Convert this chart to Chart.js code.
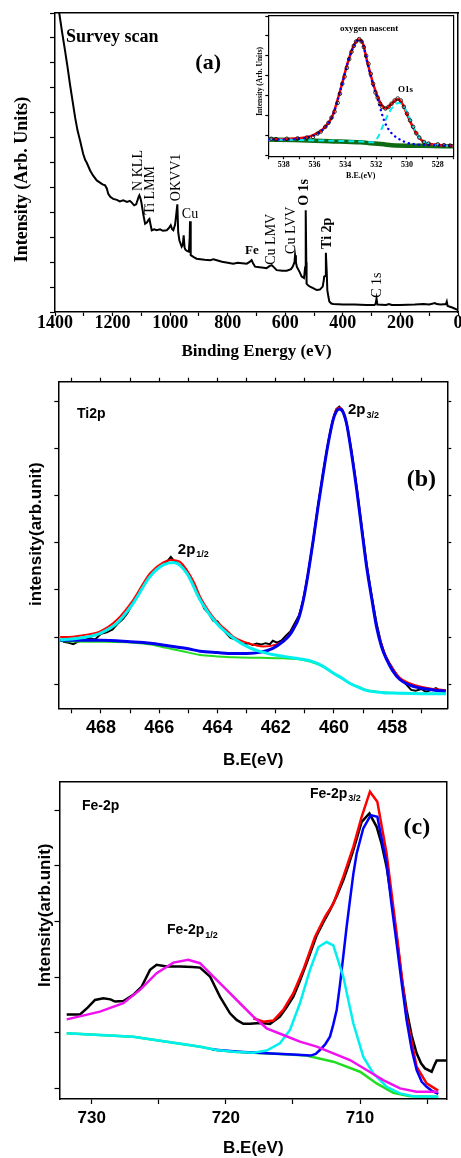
<!DOCTYPE html>
<html>
<head>
<meta charset="utf-8">
<script src="https://cdn.jsdelivr.net/npm/chart.js@4.4.0/dist/chart.umd.min.js"></script>
<style>
  body { margin: 0; background: #fff; }
  #wrap { position: relative; width: 461px; height: 1158px; overflow: hidden; background: #fff; }
  canvas { position: absolute; }
</style>
</head>
<body>
<div id="wrap">
  <canvas id="surveyChart" width="461" height="364" style="left:0;top:0"></canvas>
  <canvas id="insetChart" width="208" height="172" style="left:250px;top:10px"></canvas>
  <canvas id="tiChart" width="461" height="408" style="left:0;top:364px"></canvas>
  <canvas id="feChart" width="461" height="386" style="left:0;top:772px"></canvas>
</div>
<script>
// [binding energy (eV), intensity (arb. units)]
const surveyScan = [[1400,6.5],[1390,6.15],[1385,5.99],[1375,5.6],[1365,5.24],[1356,4.9],[1348,4.57],[1340,4.27],[1330,3.9],[1322,3.65],[1313,3.44],[1302,3.17],[1295,3.05],[1290,3.0],[1278,2.84],[1268,2.74],[1255,2.64],[1245,2.6],[1235,2.56],[1226,2.54],[1220,2.48],[1215,2.37],[1208,2.31],[1198,2.27],[1185,2.25],[1175,2.22],[1163,2.24],[1150,2.21],[1140,2.23],[1134,2.2],[1125,2.14],[1118,2.16],[1110,2.3],[1107,2.34],[1103,2.28],[1099,2.17],[1093,1.95],[1087,1.77],[1080,1.8],[1074,1.86],[1072,1.87],[1068,1.75],[1064,1.64],[1055,1.66],[1047,1.64],[1035,1.66],[1025,1.63],[1012,1.64],[1005,1.68],[998,1.74],[993,1.66],[989,1.64],[983,1.75],[978,2.0],[975,2.16],[972,1.6],[968,1.44],[960,1.31],[956,1.35],[953,1.54],[950,1.3],[947,1.25],[940,1.22],[935,1.21],[932,1.5],[931,1.82],[929,1.3],[928,1.14],[918,1.1],[908,1.07],[895,1.06],[880,1.05],[860,1.04],[850,1.06],[838,1.04],[820,1.01],[800,0.99],[781,0.97],[765,0.99],[750,0.98],[734,0.97],[725,1.0],[717,1.04],[712,0.98],[705,0.91],[690,0.9],[675,0.89],[665,0.88],[655,0.92],[647,0.94],[640,0.9],[630,0.84],[610,0.83],[595,0.83],[580,0.86],[574,0.91],[568,1.0],[566,1.14],[563,1.0],[560,0.91],[550,0.8],[543,0.71],[535,0.68],[531,0.9],[529,2.04],[527,1.0],[526,0.57],[520,0.53],[514,0.51],[500,0.47],[491,0.44],[480,0.45],[470,0.51],[466,0.65],[465,0.71],[462,0.72],[459,1.19],[456,0.8],[454,0.44],[450,0.3],[447,0.21],[440,0.17],[433,0.16],[400,0.15],[360,0.15],[317,0.14],[290,0.14],[286,0.17],[283,0.27],[280,0.15],[250,0.14],[240,0.16],[230,0.14],[201,0.14],[150,0.15],[120,0.16],[100,0.15],[80,0.18],[74,0.16],[60,0.15],[42,0.16],[39,0.21],[36,0.12],[20,0.09],[0,0.04]];

// O1s inset
const o1sFit = [[539,0.91],[538,0.91],[537,0.93],[536.3,0.98],[535.8,1.06],[535.4,1.18],[534.85,1.48],[534.3,2.18],[533.8,2.89],[533.4,3.3],[533.1,3.41],[532.85,3.3],[532.6,2.89],[532.2,2.31],[531.86,1.93],[531.6,1.74],[531.36,1.68],[531.0,1.8],[530.6,1.91],[530.3,1.8],[530.03,1.56],[529.7,1.28],[529.4,1.06],[528.96,0.85],[528.3,0.78],[527.6,0.75],[527,0.74]];
const o1sNascent = [[539,0.9],[538,0.9],[537,0.92],[536.3,0.97],[535.8,1.05],[535.4,1.17],[534.85,1.47],[534.3,2.17],[533.8,2.88],[533.4,3.29],[533.1,3.4],[532.85,3.29],[532.6,2.87],[532.2,2.27],[531.86,1.86],[531.5,1.39],[531.2,1.16],[530.9,1.02],[530.67,0.95],[530.0,0.82],[529.4,0.78],[528.5,0.76],[527,0.74]];
const o1sPeak = [[539,0.9],[537,0.89],[535,0.87],[533,0.85],[532.2,0.83],[531.9,0.95],[531.5,1.3],[531.1,1.62],[530.7,1.8],[530.5,1.82],[530.2,1.72],[529.9,1.5],[529.5,1.15],[529.1,0.9],[528.6,0.8],[528,0.76],[527,0.74]];
const o1sBackground = [[539,0.9],[537.3,0.89],[535,0.86],[533,0.83],[532.4,0.81],[531.5,0.78],[531,0.76],[529,0.745],[527,0.73]];
const o1sPoints = [[538.8,0.92],[538.5,0.91],[537.8,0.92],[537.1,0.93],[536.5,0.95],[536.1,0.97],[535.8,1.05],[535.6,1.1],[535.3,1.22],[535.1,1.32],[534.9,1.45],[534.7,1.6],[534.5,1.82],[534.35,2.05],[534.2,2.3],[534.05,2.48],[533.9,2.7],[533.75,2.92],[533.6,3.1],[533.45,3.25],[533.3,3.36],[533.1,3.42],[532.95,3.36],[532.8,3.22],[532.65,3.0],[532.5,2.8],[532.35,2.55],[532.2,2.3],[532.05,2.08],[531.9,1.95],[531.75,1.8],[531.6,1.72],[531.4,1.68],[531.2,1.72],[531.0,1.8],[530.8,1.88],[530.6,1.93],[530.4,1.88],[530.2,1.72],[530.0,1.55],[529.8,1.38],[529.6,1.22],[529.4,1.06],[529.2,0.95],[528.9,0.84],[528.6,0.8],[528.0,0.78],[527.6,0.76],[527.2,0.75]];

// Ti2p
const ti2pRaw = [[469.3,1.9],[469.1,1.88],[468.95,1.85],[468.8,1.9],[468.6,1.93],[468.4,1.98],[468.2,1.95],[468.0,2.07],[467.8,2.1],[467.6,2.16],[467.4,2.3],[467.25,2.38],[467.1,2.5],[466.9,2.72],[466.7,2.92],[466.5,3.12],[466.3,3.32],[466.1,3.45],[465.9,3.52],[465.75,3.58],[465.6,3.7],[465.5,3.62],[465.35,3.55],[465.2,3.5],[465.05,3.38],[464.9,3.2],[464.75,3.02],[464.6,2.82],[464.45,2.6],[464.3,2.5],[464.15,2.35],[464.0,2.33],[463.85,2.2],[463.7,2.08],[463.55,1.98],[463.4,1.95],[463.25,1.9],[463.1,1.85],[462.95,1.87],[462.8,1.83],[462.65,1.86],[462.5,1.84],[462.35,1.87],[462.2,1.85],[462.1,1.92],[461.95,1.88],[461.8,1.93],[461.65,2.03],[461.5,2.12],[461.2,2.46],[461.05,2.8],[460.9,3.3],[460.71,4.05],[460.55,4.78],[460.37,5.5],[460.2,6.12],[460.03,6.62],[459.92,6.83],[459.82,6.88],[459.7,6.8],[459.57,6.53],[459.4,5.95],[459.22,5.17],[459.05,4.35],[458.88,3.55],[458.7,2.85],[458.54,2.3],[458.4,1.92],[458.25,1.62],[458.1,1.45],[457.95,1.3],[457.8,1.15],[457.65,1.08],[457.5,0.98],[457.35,0.88],[457.2,0.86],[457.0,0.9],[456.85,0.84],[456.7,0.87],[456.5,0.92],[456.35,0.86],[456.2,0.84]];
const ti2pFit = [[469.4,2.0],[469.24,2.0],[468.6,2.04],[468.03,2.12],[467.46,2.36],[466.89,2.79],[466.32,3.35],[465.86,3.58],[465.57,3.63],[465.3,3.6],[465.05,3.42],[464.8,3.15],[464.6,2.86],[464.3,2.55],[464.03,2.33],[463.7,2.15],[463.46,2.01],[462.89,1.86],[462.43,1.8],[462.0,1.84],[461.74,1.92],[461.55,2.04],[461.4,2.18],[461.2,2.44],[461.05,2.81],[460.9,3.32],[460.71,4.08],[460.55,4.77],[460.37,5.49],[460.2,6.12],[460.03,6.62],[459.92,6.82],[459.82,6.86],[459.7,6.8],[459.57,6.55],[459.4,5.93],[459.22,5.15],[459.05,4.33],[458.88,3.52],[458.7,2.83],[458.54,2.25],[458.37,1.84],[458.19,1.56],[458.0,1.35],[457.74,1.14],[457.4,1.02],[457.05,0.95],[456.6,0.9],[456.16,0.88]];
const ti2p32 = [[469.4,1.93],[468,1.93],[467,1.9],[466.3,1.87],[465.75,1.82],[465,1.75],[464.6,1.7],[464,1.67],[463.46,1.65],[463,1.65],[462.5,1.68],[462.1,1.76],[461.74,1.91],[461.55,2.02],[461.4,2.16],[461.2,2.42],[461.05,2.79],[460.9,3.3],[460.71,4.06],[460.55,4.75],[460.37,5.47],[460.2,6.1],[460.03,6.6],[459.92,6.78],[459.82,6.83],[459.7,6.78],[459.57,6.53],[459.4,5.9],[459.22,5.12],[459.05,4.3],[458.88,3.49],[458.7,2.8],[458.54,2.22],[458.37,1.8],[458.19,1.52],[458.0,1.3],[457.74,1.1],[457.4,0.98],[457.05,0.92],[456.6,0.88],[456.16,0.85]];
const ti2p12 = [[469.4,1.94],[469.0,1.96],[468.5,2.0],[468.03,2.08],[467.46,2.29],[466.89,2.72],[466.32,3.28],[465.86,3.53],[465.5,3.58],[465.05,3.35],[464.6,2.79],[464.03,2.29],[463.46,1.98],[462.89,1.77],[462.32,1.66],[461.74,1.59],[461.2,1.54],[460.83,1.5],[460.4,1.39],[460.03,1.24],[459.7,1.12],[459.46,1.02],[459.1,0.92],[458.89,0.87],[458.3,0.82],[457.74,0.81],[457,0.8],[456.16,0.8]];
const ti2pBackground = [[469.4,1.92],[469.24,1.91],[468,1.9],[466.89,1.88],[466.3,1.84],[465.75,1.77],[465.2,1.7],[464.6,1.62],[464,1.59],[463.46,1.57],[462.5,1.56],[461.74,1.55],[461.2,1.53],[460.83,1.48],[460.4,1.38],[460.03,1.24],[459.7,1.11],[459.46,1.02],[459.1,0.93],[458.89,0.88],[458.3,0.83],[457.74,0.81],[457,0.8],[456.16,0.8]];

// Fe2p
const fe2pRaw = [[731.86,2.33],[730.87,2.33],[730.3,2.45],[729.75,2.59],[729.13,2.62],[728.6,2.6],[728.26,2.56],[727.64,2.57],[726.9,2.68],[726.27,2.83],[725.65,3.13],[725.16,3.22],[724.41,3.19],[723.42,3.19],[722.5,3.18],[721.93,3.17],[721.18,3.01],[720.44,2.65],[719.69,2.35],[719.2,2.23],[718.7,2.16],[718.2,2.16],[717.7,2.17],[717.2,2.17],[716.71,2.16],[715.97,2.29],[715.5,2.45],[714.97,2.65],[714.5,2.92],[713.98,3.25],[713.23,3.75],[712.7,4.0],[712.24,4.2],[711.75,4.45],[711.25,4.74],[710.9,4.98],[710.5,5.28],[709.88,5.79],[709.3,5.94],[708.76,5.7],[708.4,5.4],[708.02,4.98],[707.65,4.4],[707.27,3.72],[706.9,3.0],[706.53,2.41],[706.15,1.95],[705.78,1.63],[705.45,1.45],[705.16,1.36],[704.66,1.3],[704.45,1.42],[704.29,1.5],[703.55,1.5]];
const fe2pFit = [[717.95,2.26],[717.2,2.2],[716.46,2.22],[715.72,2.41],[714.97,2.71],[714.23,3.13],[713.36,3.72],[712.61,4.08],[711.99,4.32],[711.25,4.8],[710.5,5.34],[709.88,5.88],[709.26,6.33],[708.71,6.15],[708.02,5.22],[707.27,3.78],[706.53,2.29],[705.78,1.39],[705.04,1.09],[704.17,0.96]];
const fe2p32 = [[721.0,1.7],[719,1.66],[717,1.63],[715,1.61],[713.7,1.59],[713.3,1.62],[712.99,1.69],[712.6,1.79],[712.24,1.93],[711.99,2.15],[711.74,2.41],[711.5,2.85],[711.25,3.37],[711.0,3.9],[710.75,4.38],[710.5,4.85],[710.25,5.22],[709.76,5.67],[709.2,5.91],[708.71,5.88],[708.4,5.5],[708.02,5.04],[707.65,4.3],[707.27,3.6],[706.9,2.9],[706.53,2.23],[706.15,1.7],[705.78,1.33],[705.4,1.12],[705.04,1.03],[704.6,0.95],[704.17,0.9]];
const fe2pSat = [[731.86,1.99],[729.4,1.96],[726.9,1.93],[724.4,1.84],[721.9,1.75],[720.7,1.69],[719.4,1.66],[717.95,1.64],[716.96,1.68],[715.97,1.81],[715.22,2.05],[714.48,2.53],[713.73,3.13],[713.1,3.54],[712.49,3.63],[711.99,3.57],[711.25,3.01],[710.5,2.17],[709.76,1.57],[709.01,1.27],[708.02,1.03],[707.02,0.91],[706.03,0.86],[704.17,0.85]];
const fe2p12 = [[731.86,2.24],[729.38,2.38],[727.64,2.53],[726.4,2.77],[725.16,3.07],[723.91,3.26],[722.8,3.31],[721.93,3.25],[720.93,3.01],[719.94,2.77],[718.95,2.53],[717.95,2.29],[716.96,2.08],[715.72,1.96],[714.48,1.84],[713.23,1.75],[711.99,1.63],[710.75,1.51],[709.51,1.33],[708.27,1.15],[707.02,1.0],[705.78,0.94],[704.17,0.94]];
const fe2pBackground = [[731.86,1.99],[729.4,1.96],[726.9,1.93],[724.4,1.84],[721.9,1.75],[720.7,1.69],[719.4,1.66],[717.95,1.64],[716,1.62],[714,1.59],[711.99,1.48],[710,1.3],[708.76,1.09],[707.52,0.92],[706.28,0.86],[704.17,0.85]];

const SERIF = '"Liberation Serif", "Times New Roman", serif';
const SANS = '"Liberation Sans", Arial, sans-serif';

function pts(list) {
  return list.map(p => ({ x: p[0], y: p[1] }));
}

function series(list, color, width, extra) {
  return Object.assign({
    data: pts(list), borderColor: color, borderWidth: width,
    pointRadius: 0, fill: false, tension: 0, xAxisID: 'x', yAxisID: 'y'
  }, extra || {});
}

// axes with a frame, fixed box sizes so the plot area lands where the figure has it
function axes(c) {
  const tickGrid = len => ({ display: true, drawOnChartArea: false, drawTicks: len > 0, tickLength: len, tickColor: '#000', tickWidth: 1.2 });
  const border = { display: true, color: '#000', width: c.bw };
  return {
    x: {
      type: 'linear', reverse: true, min: c.x[0], max: c.x[1],
      grid: tickGrid(c.tlx), border: border,
      ticks: {
        stepSize: c.x[2], includeBounds: false, autoSkip: false, maxRotation: 0, minRotation: 0,
        color: '#000', font: c.tickFont, padding: c.tickPad,
        callback: v => (Math.abs(v % c.x[3]) < 1e-6 ? String(v) : '')
      },
      title: { display: true, text: c.xTitle, color: '#000', font: c.xTitleFont, padding: { top: 0, bottom: c.xTitlePad } },
      afterFit: s => { s.height = c.bottom; s.paddingLeft = 0; s.paddingRight = 0; }
    },
    y: {
      type: 'linear', min: c.y[0], max: c.y[1],
      grid: tickGrid(c.tly), border: border,
      ticks: { display: false, stepSize: c.y[2], includeBounds: false },
      afterFit: s => { s.width = c.left; }
    },
    x2: {
      type: 'linear', position: 'top', reverse: true, min: c.x[0], max: c.x[1],
      grid: tickGrid(c.tlm || 0), border: border,
      ticks: { display: false, stepSize: c.x[2], includeBounds: false },
      afterFit: s => { s.height = 0; s.paddingLeft = 0; s.paddingRight = 0; }
    },
    y2: {
      type: 'linear', position: 'right', min: c.y[0], max: c.y[1],
      grid: tickGrid(c.tlm || 0), border: border,
      ticks: { display: false, stepSize: c.y[2], includeBounds: false },
      afterFit: s => { s.width = 0; }
    }
  };
}

// labels: x/y in data units; px puts the label at a fixed canvas x (used for y axis titles)
function notes(items) {
  return {
    id: 'notes',
    afterDatasetsDraw(chart) {
      const ctx = chart.ctx, sx = chart.scales.x, sy = chart.scales.y;
      items.forEach(n => {
        ctx.save();
        ctx.translate(n.px !== undefined ? n.px : sx.getPixelForValue(n.x), sy.getPixelForValue(n.y));
        if (n.rot) ctx.rotate(-Math.PI / 2);
        ctx.fillStyle = '#000';
        ctx.font = n.font;
        ctx.textAlign = n.align || 'left';
        ctx.textBaseline = 'middle';
        ctx.fillText(n.text, 0, 0);
        if (n.sub) {
          const w = ctx.measureText(n.text).width;
          ctx.font = n.subFont;
          ctx.textAlign = 'left';
          ctx.fillText(n.sub, w + 1, n.subDy);
        }
        ctx.restore();
      });
    }
  };
}

const base = {
  responsive: false, animation: false, events: [],
  plugins: { legend: { display: false }, tooltip: { enabled: false } }
};

// (a) survey scan
const lbl = `14px ${SERIF}`, lblB = `bold 14px ${SERIF}`;
new Chart(document.getElementById('surveyChart'), {
  type: 'line',
  data: { datasets: [series(surveyScan, '#000', 2)] },
  options: Object.assign({}, base, {
    layout: { padding: { top: 13, right: 3, left: 0, bottom: 0 } },
    scales: axes({
      x: [0, 1400, 100, 200], y: [0, 6, 0.5], bw: 1.5, tlx: 4, tly: 5,
      left: 55, bottom: 52,
      tickFont: { family: SERIF, size: 18, weight: 'bold', lineHeight: 1 }, tickPad: -2,
      xTitle: 'Binding Energy (eV)', xTitleFont: { family: SERIF, size: 17, weight: 'bold' }, xTitlePad: 1.8
    })
  }),
  plugins: [notes([
    { text: 'Intensity (Arb. Units)', px: 22.5, y: 2.66, rot: true, align: 'center', font: `bold 18px ${SERIF}` },
    { text: 'Survey scan', x: 1362, y: 5.52, font: `bold 18px ${SERIF}` },
    { text: '(a)', x: 868, y: 5.0, font: `bold 22px ${SERIF}`, align: 'center' },
    { text: 'N KLL', x: 1112, y: 2.84, rot: true, align: 'center', font: lbl },
    { text: 'Ti LMM', x: 1070, y: 2.44, rot: true, align: 'center', font: lbl },
    { text: 'OKVV1', x: 980, y: 2.7, rot: true, align: 'center', font: lbl },
    { text: 'Cu', x: 931, y: 1.96, align: 'center', font: lbl },
    { text: 'Fe', x: 716, y: 1.24, align: 'center', font: `bold 13px ${SERIF}` },
    { text: 'Cu LMV', x: 650, y: 1.46, rot: true, align: 'center', font: lbl },
    { text: 'Cu LVV', x: 580, y: 1.64, rot: true, align: 'center', font: lbl },
    { text: 'O 1s', x: 535, y: 2.4, rot: true, align: 'center', font: lblB },
    { text: 'Ti 2p', x: 455, y: 1.58, rot: true, align: 'center', font: lblB },
    { text: 'C 1s', x: 281, y: 0.54, rot: true, align: 'center', font: lbl }
  ])]
});

// (a) inset, O1s
new Chart(document.getElementById('insetChart'), {
  type: 'line',
  data: {
    datasets: [
      series(o1sPoints, '#000', 0, { showLine: false, pointRadius: 1.8, pointBorderWidth: 0.8, pointBorderColor: '#000', pointBackgroundColor: 'rgba(255,255,255,0)' }),
      series(o1sNascent, '#0000ff', 2.4, { borderDash: [0.1, 5], borderCapStyle: 'round', cubicInterpolationMode: 'monotone' }),
      series(o1sPeak, '#00e8f0', 2, { borderDash: [6, 4], cubicInterpolationMode: 'monotone' }),
      series(o1sFit, '#ff0000', 2.5, { cubicInterpolationMode: 'monotone' }),
      series(o1sBackground, '#0f6b12', 4.5, { cubicInterpolationMode: 'monotone' })
    ]
  },
  options: Object.assign({}, base, {
    layout: { padding: { top: 6, right: 4, left: 0, bottom: 0 } },
    scales: axes({
      x: [527, 539, 1, 2], y: [0.47, 4.0, 0.5], bw: 1.2, tlx: 2.5, tly: 3,
      left: 18.3, bottom: 25.3,
      tickFont: { family: SERIF, size: 8, weight: 'bold', lineHeight: 1 }, tickPad: 1.8,
      xTitle: 'B.E.(eV)', xTitleFont: { family: SERIF, size: 8, weight: 'bold' }, xTitlePad: 1.2
    })
  }),
  plugins: [notes([
    { text: 'Intensity (Arb. Units)', px: 10, y: 2.36, rot: true, align: 'center', font: `bold 7.5px ${SERIF}` },
    { text: 'oxygen nascent', x: 532.45, y: 3.67, align: 'center', font: `bold 9px ${SERIF}` },
    { text: 'O1s', x: 530.1, y: 2.14, align: 'center', font: `bold 9px ${SERIF}` }
  ])]
});

// (b) Ti2p
new Chart(document.getElementById('tiChart'), {
  type: 'line',
  data: {
    datasets: [
      series(ti2p12, '#00f0f0', 3, { cubicInterpolationMode: 'monotone' }),
      series(ti2p32, '#0000ee', 3, { cubicInterpolationMode: 'monotone' }),
      series(ti2pFit, '#ff0000', 2, { cubicInterpolationMode: 'monotone' }),
      series(ti2pBackground, '#22dd22', 2, { cubicInterpolationMode: 'monotone' }),
      series(ti2pRaw, '#000', 2)
    ]
  },
  options: Object.assign({}, base, {
    layout: { padding: { top: 17.7, right: 13.7, left: 0, bottom: 0 } },
    scales: axes({
      x: [456.11, 469.44, 1, 2], y: [0.49, 7.41, 1], bw: 1.5, tlx: 5, tly: 4.7, tlm: 4,
      left: 59, bottom: 63.7,
      tickFont: { family: SANS, size: 18, weight: 'bold', lineHeight: 1 }, tickPad: 5.7,
      xTitle: 'B.E(eV)', xTitleFont: { family: SANS, size: 17, weight: 'bold' }, xTitlePad: 1.3
    })
  }),
  plugins: [notes([
    { text: 'intensity(arb.unit)', px: 36.7, y: 4.18, rot: true, align: 'center', font: `bold 17px ${SANS}` },
    { text: 'Ti2p', x: 468.82, y: 6.72, font: `bold 14px ${SANS}` },
    { text: '2p', x: 459.52, y: 6.81, font: `bold 15px ${SANS}`, sub: '3/2', subFont: `bold 9px ${SANS}`, subDy: 5 },
    { text: '2p', x: 465.36, y: 3.85, font: `bold 15px ${SANS}`, sub: '1/2', subFont: `bold 9px ${SANS}`, subDy: 5 },
    { text: '(b)', x: 457.0, y: 5.33, align: 'center', font: `bold 24px ${SERIF}` }
  ])]
});

// (c) Fe2p
new Chart(document.getElementById('feChart'), {
  type: 'line',
  data: {
    datasets: [
      series(fe2p12, '#f010f0', 2.5),
      series(fe2pSat, '#00f0f0', 2.5),
      series(fe2p32, '#0000ff', 2.5),
      series(fe2pFit, '#ff0000', 2.5),
      series(fe2pRaw, '#000', 2.5),
      series(fe2pBackground, '#22dd22', 2.5)
    ]
  },
  options: Object.assign({}, base, {
    layout: { padding: { top: 9.7, right: 14.3, left: 0, bottom: 0 } },
    scales: axes({
      x: [703.54, 732.36, 5, 10], y: [0.81, 6.51, 1], bw: 1.5, tlx: 5, tly: 5.5,
      left: 60, bottom: 59,
      tickFont: { family: SANS, size: 17, weight: 'bold', lineHeight: 1 }, tickPad: 5.5,
      xTitle: 'B.E(eV)', xTitleFont: { family: SANS, size: 17, weight: 'bold' }, xTitlePad: -1
    })
  }),
  plugins: [notes([
    { text: 'Intensity(arb.unit)', px: 45.5, y: 4.11, rot: true, align: 'center', font: `bold 17px ${SANS}` },
    { text: 'Fe-2p', x: 730.72, y: 6.07, font: `bold 14px ${SANS}` },
    { text: 'Fe-2p', x: 713.73, y: 6.29, font: `bold 14px ${SANS}`, sub: '3/2', subFont: `bold 9px ${SANS}`, subDy: 5 },
    { text: 'Fe-2p', x: 724.39, y: 3.84, font: `bold 14px ${SANS}`, sub: '1/2', subFont: `bold 9px ${SANS}`, subDy: 5 },
    { text: '(c)', x: 705.76, y: 5.69, align: 'center', font: `bold 24px ${SERIF}` }
  ])]
});
</script>
</body>
</html>
